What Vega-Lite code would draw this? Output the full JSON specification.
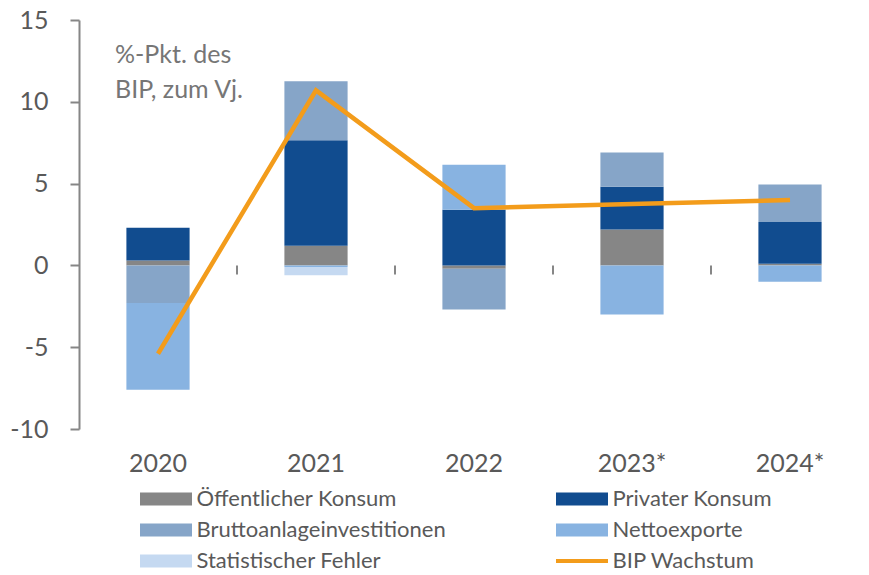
{
  "$schema": "https://vega.github.io/schema/vega-lite/v6.json",
  "width": 790,
  "height": 409,
  "autosize": {"type": "none"},
  "padding": {"left": 79, "top": 20, "right": 0, "bottom": 146},
  "config": {"view": {"stroke": null}, "font": "Lato"},
  "datasets": {
    "comp": [
      {"year": "2020", "comp": "Öffentlicher Konsum", "ord": 1, "value": 0.3},
      {"year": "2020", "comp": "Privater Konsum", "ord": 2, "value": 2.0},
      {"year": "2020", "comp": "Bruttoanlageinvestitionen", "ord": 3, "value": -2.3},
      {"year": "2020", "comp": "Nettoexporte", "ord": 4, "value": -5.3},
      {"year": "2020", "comp": "Statistischer Fehler", "ord": 5, "value": 0},
      {"year": "2021", "comp": "Öffentlicher Konsum", "ord": 1, "value": 1.2},
      {"year": "2021", "comp": "Privater Konsum", "ord": 2, "value": 6.45},
      {"year": "2021", "comp": "Bruttoanlageinvestitionen", "ord": 3, "value": 3.6},
      {"year": "2021", "comp": "Nettoexporte", "ord": 4, "value": -0.1},
      {"year": "2021", "comp": "Statistischer Fehler", "ord": 5, "value": -0.5},
      {"year": "2022", "comp": "Öffentlicher Konsum", "ord": 1, "value": -0.2},
      {"year": "2022", "comp": "Privater Konsum", "ord": 2, "value": 3.4},
      {"year": "2022", "comp": "Bruttoanlageinvestitionen", "ord": 3, "value": -2.5},
      {"year": "2022", "comp": "Nettoexporte", "ord": 4, "value": 2.75},
      {"year": "2022", "comp": "Statistischer Fehler", "ord": 5, "value": 0},
      {"year": "2023*", "comp": "Öffentlicher Konsum", "ord": 1, "value": 2.2},
      {"year": "2023*", "comp": "Privater Konsum", "ord": 2, "value": 2.6},
      {"year": "2023*", "comp": "Bruttoanlageinvestitionen", "ord": 3, "value": 2.1},
      {"year": "2023*", "comp": "Nettoexporte", "ord": 4, "value": -3.0},
      {"year": "2023*", "comp": "Statistischer Fehler", "ord": 5, "value": 0},
      {"year": "2024*", "comp": "Öffentlicher Konsum", "ord": 1, "value": 0.1},
      {"year": "2024*", "comp": "Privater Konsum", "ord": 2, "value": 2.55},
      {"year": "2024*", "comp": "Bruttoanlageinvestitionen", "ord": 3, "value": 2.3},
      {"year": "2024*", "comp": "Nettoexporte", "ord": 4, "value": -1.0},
      {"year": "2024*", "comp": "Statistischer Fehler", "ord": 5, "value": 0}
    ],
    "bip": [
      {"year": "2020", "value": -5.4},
      {"year": "2021", "value": 10.7},
      {"year": "2022", "value": 3.5},
      {"year": "2023*", "value": 3.75},
      {"year": "2024*", "value": 4.0}
    ],
    "ticks": [
      {"year": "2021"}, {"year": "2022"}, {"year": "2023*"}, {"year": "2024*"}
    ],
    "note": [
      {"line": "%-Pkt. des", "v": 12.85},
      {"line": "BIP, zum Vj.", "v": 10.7}
    ]
  },
  "layer": [
    {
      "data": {"name": "comp"},
      "mark": {"type": "bar"},
      "encoding": {
        "x": {
          "field": "year", "type": "nominal", "sort": null,
          "scale": {"paddingInner": 0.6, "paddingOuter": 0.3},
          "axis": {
            "title": null, "orient": "bottom", "domain": false, "ticks": false,
            "labelAngle": 0, "labelFontSize": 25, "labelColor": "#595959",
            "labelPadding": 22, "labelFont": "Lato"
          }
        },
        "y": {
          "field": "value", "type": "quantitative", "stack": "zero",
          "scale": {"domain": [-10, 15], "nice": false, "zero": false},
          "axis": {
            "title": null, "values": [-10, -5, 0, 5, 10, 15], "grid": false,
            "labelExpr": "'' + datum.value",
            "labelFontSize": 25, "labelColor": "#595959", "labelFont": "Lato",
            "tickSize": 9, "tickColor": "#868686", "tickWidth": 2,
            "domainColor": "#868686", "domainWidth": 2, "labelPadding": 22
          }
        },
        "color": {
          "field": "comp", "type": "nominal",
          "scale": {
            "domain": ["Öffentlicher Konsum", "Bruttoanlageinvestitionen", "Statistischer Fehler", "Privater Konsum", "Nettoexporte", "BIP Wachstum"],
            "range": ["#868686", "#86A5C8", "#C5D9F1", "#114C8F", "#88B3E1", "#F39C1B"]
          },
          "legend": {
            "orient": "none", "legendX": 76, "legendY": 468, "columns": 2,
            "title": null, "symbolType": "M-4,-1H4V1H-4Z", "symbolSize": 169,
            "symbolStrokeWidth": 0, "labelFontSize": 22, "labelColor": "#595959",
            "labelFont": "Lato", "labelOffset": 19.5, "columnPadding": 110, "rowPadding": 9,
            "labelLimit": 400, "symbolOpacity": 1,
            "encode": {
              "symbols": {
                "update": {
                  "shape": {"signal": "datum.value === 'BIP Wachstum' ? 'M-4,-0.32H4V0.32H-4Z' : 'M-4,-1H4V1H-4Z'"}
                }
              }
            }
          }
        },
        "order": {"field": "ord", "type": "quantitative"}
      }
    },
    {
      "mark": {"type": "rule", "color": "#868686", "strokeWidth": 2},
      "encoding": {"y": {"datum": 0}}
    },
    {
      "data": {"name": "ticks"},
      "mark": {"type": "rule", "color": "#868686", "strokeWidth": 2},
      "encoding": {
        "x": {"field": "year", "type": "nominal", "sort": null, "bandPosition": -0.75},
        "y": {"datum": 0},
        "y2": {"datum": -0.55}
      }
    },
    {
      "data": {"name": "bip"},
      "mark": {"type": "line", "strokeWidth": 4.5},
      "encoding": {
        "x": {"field": "year", "type": "nominal", "sort": null},
        "y": {"field": "value", "type": "quantitative"},
        "color": {"datum": "BIP Wachstum"}
      }
    },
    {
      "data": {"name": "note"},
      "mark": {"type": "text", "align": "left", "baseline": "middle", "fontSize": 25, "font": "Lato", "color": "#767676", "dx": -43},
      "encoding": {
        "x": {"datum": "2020"},
        "y": {"field": "v", "type": "quantitative"},
        "text": {"field": "line"}
      }
    }
  ]
}
